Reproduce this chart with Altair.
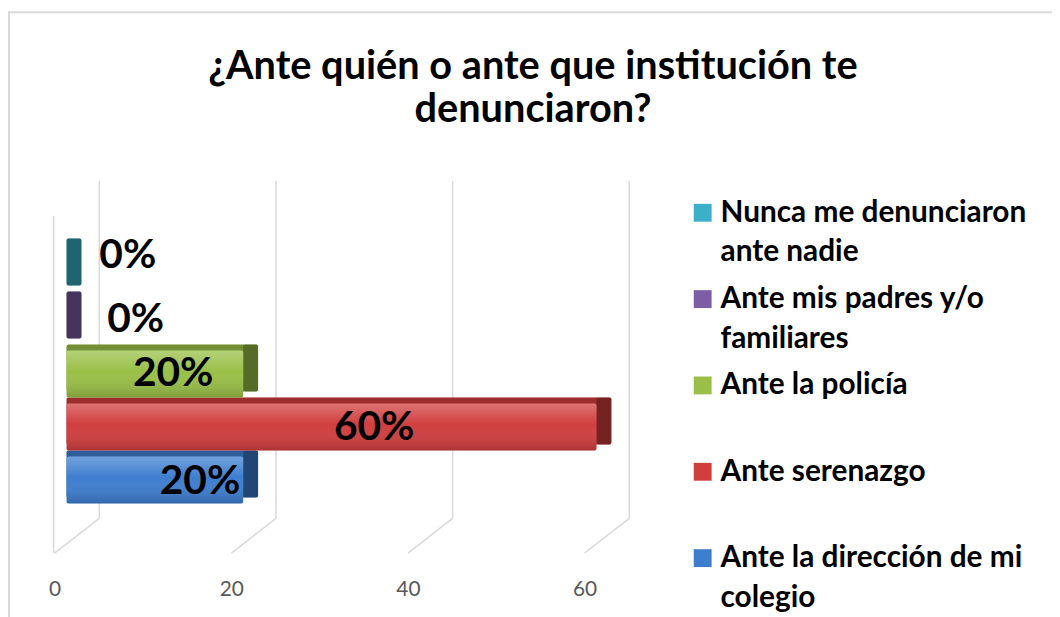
import json
import altair as alt
import pandas as pd

# ---------------- data ----------------
categories = [
    "Nunca me denunciaron ante nadie",
    "Ante mis padres y/o familiares",
    "Ante la policía",
    "Ante serenazgo",
    "Ante la dirección de mi colegio",
]
values = [0, 0, 20, 60, 20]
value_labels = ["0%", "0%", "20%", "60%", "20%"]
legend_lines = [
    ["Nunca me denunciaron", "ante nadie"],
    ["Ante mis padres y/o", "familiares"],
    ["Ante la policía"],
    ["Ante serenazgo"],
    ["Ante la dirección de mi", "colegio"],
]
x_ticks = [0, 20, 40, 60]
colors = ["#3cb0c9", "#7d5ea6", "#99bf47", "#d13e3e", "#3e7ecf"]
title_lines = ["¿Ante quién o ante que institución te", "denunciaron?"]

df = pd.DataFrame({"cat": categories, "value": values, "label": value_labels})
ticks_df = pd.DataFrame({"t": x_ticks})
one_df = pd.DataFrame({"k": [0]})

# ---------------- layout / style ----------------
W, H = 534, 267
DX, DY = 15, 6
band = H / len(categories)
face_h = band - DY
FONT = "Lato"
GRID = "#d9d9d9"

xscale = alt.Scale(domain=[0, 60], nice=False)
yscale = alt.Scale(domain=categories, paddingInner=0, paddingOuter=0)
xaxis = alt.Axis(values=x_ticks, domain=False, ticks=False, grid=False,
                 labelFont=FONT, labelFontSize=21, labelColor="#595959",
                 labelPadding=91, labelOffset=-12, labelFlush=False,
                 labelBound=False, labelOverlap=False, title=None)

label_expr = "".join(
    f"datum.label == {json.dumps(c, ensure_ascii=False)} ? {json.dumps(l, ensure_ascii=False)} : "
    for c, l in zip(categories, legend_lines)
) + "datum.label"

legend = alt.Legend(orient="none", legendX=626, legendY=-41, title=None,
                    symbolType="square", symbolSize=324, symbolStrokeWidth=0,
                    symbolOpacity=1, labelFont=FONT, labelFontSize=30,
                    labelFontWeight="bold", labelColor="black", labelLimit=420,
                    labelOffset=3, labelExpr=label_expr, gridAlign="all",
                    rowPadding=17, padding=0, labelBaseline="top")

color = alt.Color("cat:N", scale=alt.Scale(domain=categories, range=colors), legend=legend)
X = alt.X("value:Q", scale=xscale, axis=xaxis)
Y = alt.Y("cat:N", scale=yscale, axis=None)

base = alt.Chart(df)

# chart border
border = alt.Chart(one_df).mark_rect(fillOpacity=0, stroke=GRID, strokeWidth=2).encode(
    x=alt.value(-58), x2=alt.value(1100), y=alt.value(-228), y2=alt.value(600))

# chart title (two lines)
title_layers = [
    alt.Chart(one_df).mark_text(
        text=line, font=FONT, fontSize=40, fontWeight="bold", color="black",
        align="center", baseline="alphabetic"
    ).encode(x=alt.value(470), y=alt.value(-161 + 44 * i))
    for i, line in enumerate(title_lines)
]

# back wall grid lines
wall = alt.Chart(ticks_df).mark_rule(color=GRID, strokeWidth=1.5, xOffset=33).encode(
    x=alt.X("t:Q", scale=xscale, axis=xaxis), y=alt.value(-58), y2=alt.value(282))
floor = alt.Chart(ticks_df).mark_rule(color=GRID, strokeWidth=1.5, xOffset=33, x2Offset=-12).encode(
    x=alt.X("t:Q", scale=xscale, axis=xaxis), x2="t:Q", y=alt.value(282), y2=alt.value(317))
side_wall = alt.Chart(ticks_df).transform_filter(alt.datum.t == 0).mark_rule(
    color=GRID, strokeWidth=1.5, xOffset=-13).encode(
    x=alt.X("t:Q", scale=xscale, axis=xaxis), y=alt.value(-23), y2=alt.value(317))

# 3D bars
back = base.mark_bar(height=face_h, yOffset=-DY / 2, xOffset=DX, cornerRadius=2).encode(
    x=X, x2=alt.datum(0), y=Y, color=color)
back_shade = base.mark_bar(height=face_h, yOffset=-DY / 2, xOffset=DX, cornerRadius=2,
                           color="black", opacity=0.25).encode(x=X, x2=alt.datum(0), y=Y)
side_shade = base.mark_bar(height=face_h, yOffset=-DY / 2, xOffset=DX, cornerRadius=2,
                           color="black", opacity=0.25).encode(x=X, x2="value:Q", y=Y)
front = base.mark_bar(height=face_h, yOffset=DY / 2, cornerRadius=2).encode(
    x=X, x2=alt.datum(0), y=Y, color=color)
gloss = base.mark_bar(
    height=face_h, yOffset=DY / 2, cornerRadius=2,
    color=alt.Gradient(gradient="linear", x1=0, x2=0, y1=0, y2=1, stops=[
        alt.GradientStop(offset=0, color="rgba(255,255,255,0.28)"),
        alt.GradientStop(offset=0.45, color="rgba(255,255,255,0.0)"),
        alt.GradientStop(offset=1, color="rgba(0,0,0,0.18)"),
    ])).encode(x=X, x2=alt.datum(0), y=Y)

# data labels (placement style per category)
label_style = {
    categories[0]: ("left", 33, -9),
    categories[1]: ("left", 41, 2),
    categories[2]: ("right", -30, 3),
    categories[3]: ("center", -224, 4),
    categories[4]: ("right", -3, 5),
}
texts = [
    base.transform_filter(alt.datum.cat == c).mark_text(
        align=a, dx=dx, dy=dy, font=FONT, fontSize=41, fontWeight="bold", color="black"
    ).encode(x=X, y=Y, text="label:N")
    for c, (a, dx, dy) in label_style.items()
]

chart = alt.layer(border, *title_layers, wall, floor, side_wall, back, back_shade, side_shade,
                  front, gloss, *texts).properties(
    width=W, height=H,
    autosize=alt.AutoSizeParams(type="none"),
    padding={"left": 59, "top": 230, "right": 459, "bottom": 112},
    background="white",
).configure(
    style={"guide-label": {"lineHeight": 40, "dy": -15}},
    view=alt.ViewConfig(strokeWidth=0),
)

chart.save("out.html", embed_options={"renderer": "svg", "actions": False})
